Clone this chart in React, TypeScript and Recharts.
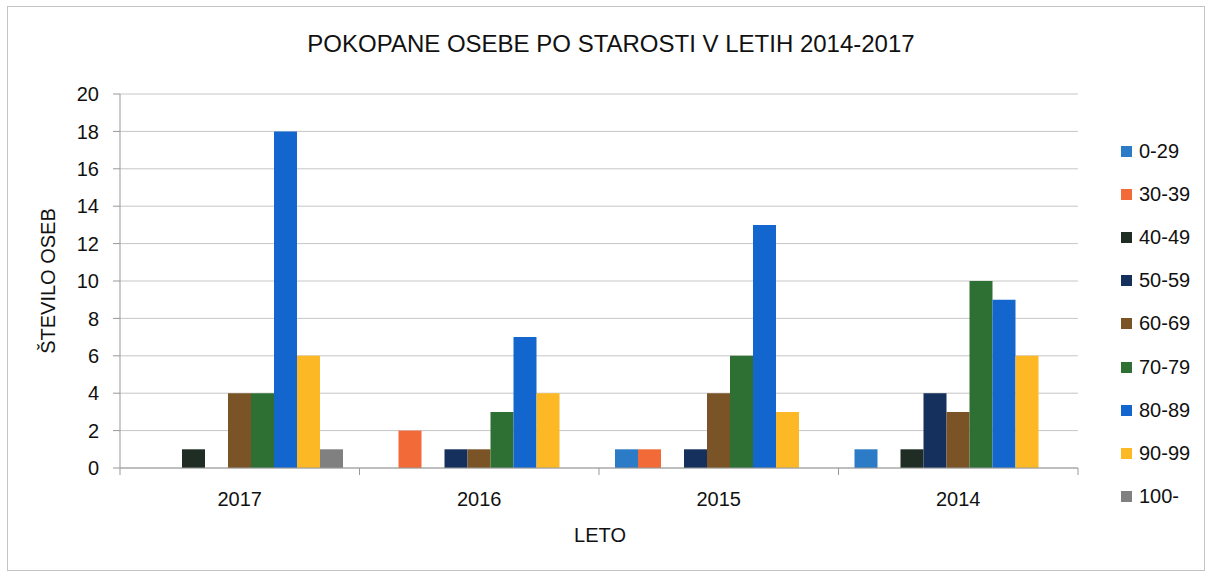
import React from "react";
import {
  BarChart,
  Bar,
  XAxis,
  YAxis,
  CartesianGrid,
} from "recharts";

const years = ["2017", "2016", "2015", "2014"];
const ageGroups = ["0-29", "30-39", "40-49", "50-59", "60-69", "70-79", "80-89", "90-99", "100-"];

const age0_29 = [0, 0, 1, 1];
const age30_39 = [0, 2, 1, 0];
const age40_49 = [1, 0, 0, 1];
const age50_59 = [0, 1, 1, 4];
const age60_69 = [4, 1, 4, 3];
const age70_79 = [4, 3, 6, 10];
const age80_89 = [18, 7, 13, 9];
const age90_99 = [6, 4, 3, 6];
const age100 = [1, 0, 0, 0];

const yTicks = [0, 2, 4, 6, 8, 10, 12, 14, 16, 18, 20];

const seriesValues = [
  age0_29, age30_39, age40_49, age50_59, age60_69,
  age70_79, age80_89, age90_99, age100,
];

const colors = [
  "#2b7bc6", "#f26a37", "#1f2d24", "#15305c", "#7a5426",
  "#2e7034", "#1466cf", "#fdb826", "#808080",
];

const data = years.map((year, i) => {
  const row: Record<string, string | number> = { year };
  ageGroups.forEach((g, j) => {
    row[g] = seriesValues[j][i];
  });
  return row;
});

const FONT = "'Liberation Sans', Arial, sans-serif";
const TEXT = "#111";
const BAND = (1078 - 120) / years.length;

function XTick(props: any) {
  const { x, y, payload, index } = props;
  return (
    <g>
      <line x1={x - BAND / 2} x2={x - BAND / 2} y1={y} y2={y + 7} stroke="#999" />
      {index === years.length - 1 && (
        <line x1={x + BAND / 2} x2={x + BAND / 2} y1={y} y2={y + 7} stroke="#999" />
      )}
      <text
        x={x}
        y={y + 31}
        textAnchor="middle"
        dominantBaseline="central"
        fontSize={20}
        fontFamily={FONT}
        fill={TEXT}
      >
        {payload.value}
      </text>
    </g>
  );
}

function LegendBox() {
  return (
    <div style={{ fontFamily: FONT, fontSize: 20, color: TEXT }}>
      {ageGroups.map((g, i) => (
        <div
          key={g}
          style={{ display: "flex", alignItems: "center", height: 43.1 }}
        >
          <span
            style={{
              display: "inline-block",
              width: 11,
              height: 11,
              background: colors[i],
              marginRight: 7,
            }}
          />
          <span>{g}</span>
        </div>
      ))}
    </div>
  );
}

export default function App() {
  return (
    <div
      style={{
        position: "absolute",
        left: 0,
        top: 0,
        width: 1211,
        height: 576,
        background: "#fff",
        fontFamily: FONT,
      }}
    >
      <div
        style={{
          position: "absolute",
          left: 7,
          top: 6,
          width: 1198,
          height: 565,
          border: "1px solid #c4c4c4",
          boxSizing: "border-box",
        }}
      />
      <div
        style={{
          position: "absolute",
          left: 0,
          width: 1222,
          top: 30,
          textAlign: "center",
          fontSize: 24,
          color: TEXT,
        }}
      >
        POKOPANE OSEBE PO STAROSTI V LETIH 2014-2017
      </div>
      <div
        style={{
          position: "absolute",
          left: 48,
          top: 281,
          transform: "translate(-50%, -50%) rotate(-90deg)",
          fontSize: 20,
          whiteSpace: "nowrap",
          color: TEXT,
        }}
      >
        ŠTEVILO OSEB
      </div>
      <div
        style={{
          position: "absolute",
          left: 600,
          top: 535,
          transform: "translate(-50%, -50%)",
          fontSize: 20,
          color: TEXT,
        }}
      >
        LETO
      </div>
      <div style={{ position: "absolute", left: 0, top: 0 }}>
        <BarChart
          width={1211}
          height={576}
          data={data}
          margin={{ top: 94, right: 133, bottom: 78, left: 60 }}
          barCategoryGap={16}
          barGap={0}
        >
          <CartesianGrid vertical={false} stroke="#c6c6c6" />
          <XAxis
            dataKey="year"
            tick={<XTick />}
            tickLine={false}
            tickSize={0}
            tickMargin={0}
            stroke="#999"
            interval={0}
          />
          <YAxis
            width={60}
            domain={[0, 20]}
            ticks={yTicks}
            interval={0}
            stroke="#999"
            tickSize={7}
            tickMargin={14}
            tick={{ fontSize: 20, fill: TEXT, fontFamily: FONT }}
          />
          {ageGroups.map((g, i) => (
            <Bar
              key={g}
              dataKey={g}
              fill={colors[i]}
              isAnimationActive={false}
            />
          ))}
        </BarChart>
      </div>
      <div style={{ position: "absolute", left: 1121, top: 130 }}>
        <LegendBox />
      </div>
    </div>
  );
}
